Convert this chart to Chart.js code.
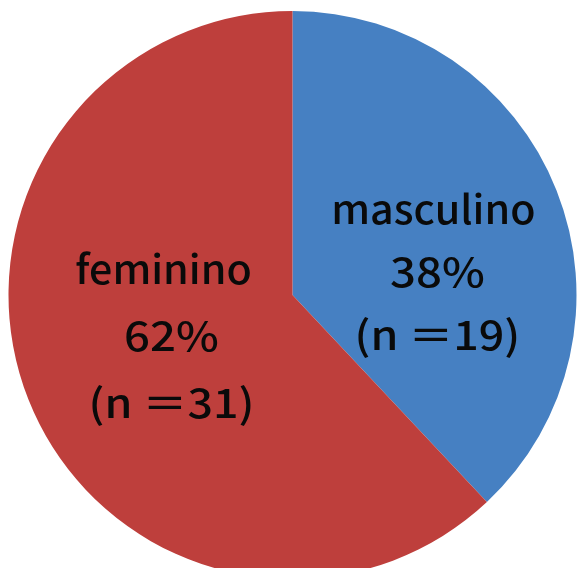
<!DOCTYPE html>
<html>
<head>
<meta charset="utf-8">
<title>Distribución por sexo</title>
<script src="https://cdn.jsdelivr.net/npm/chart.js@4/dist/chart.umd.min.js"></script>
<style>
  html, body { margin: 0; padding: 0; background: #ffffff; overflow: hidden; }
  #wrap { position: relative; width: 579px; height: 568px; overflow: hidden; }
  canvas { display: block; }
</style>
</head>
<body>
<div id="wrap"><canvas id="pie" width="579" height="600"></canvas></div>
<script>
// Sexo de los participantes
const categories = ['masculino', 'feminino'];
const counts = [19, 31];
const percentLabels = ['38%', '62%'];
const sliceColors = ['#4680c2', '#be3f3c'];

// Label block placement, in units of the pie radius from its centre
const labelAnchors = [
  { dx: 0.510, dy: -0.080, lineGap: 63, shifts: [-4, 0, 0] },
  { dx: -0.426, dy: 0.142, lineGap: 67, shifts: [-8, 0, 0] }
];
// Horizontal stretch for each of the three label lines
const lineStretch = [1.03, 1.14, 1.12];

const sliceLabels = {
  id: 'sliceLabels',
  afterDatasetsDraw(chart) {
    const ctx = chart.ctx;
    const meta = chart.getDatasetMeta(0);
    meta.data.forEach((arc, i) => {
      const r = arc.outerRadius;
      const a = labelAnchors[i];
      const cx = arc.x + a.dx * r;
      const cy = arc.y + a.dy * r;
      const lines = [
        categories[i],
        percentLabels[i],
        '(n \uFF1D' + counts[i] + ')'
      ];
      ctx.save();
      ctx.fillStyle = '#0a0a0a';
      ctx.textAlign = 'center';
      ctx.textBaseline = 'middle';
      ctx.font = '500 40px "Noto Sans CJK SC", "Noto Sans", sans-serif';
      lines.forEach((t, k) => {
        const x = cx + a.shifts[k];
        const y = cy + (k - 1) * a.lineGap;
        ctx.save();
        ctx.translate(x, y);
        ctx.scale(lineStretch[k], 1);
        ctx.fillText(t, 0, 0);
        ctx.restore();
      });
      ctx.restore();
    });
  }
};

new Chart(document.getElementById('pie'), {
  type: 'pie',
  data: {
    labels: categories,
    datasets: [{
      data: counts,
      backgroundColor: sliceColors,
      borderWidth: 0
    }]
  },
  options: {
    responsive: false,
    animation: false,
    rotation: 0,
    layout: { padding: { left: 8.5, right: 2.5, top: 11, bottom: 21 } },
    plugins: {
      legend: { display: false },
      tooltip: { enabled: false }
    }
  },
  plugins: [sliceLabels]
});
</script>
</body>
</html>
